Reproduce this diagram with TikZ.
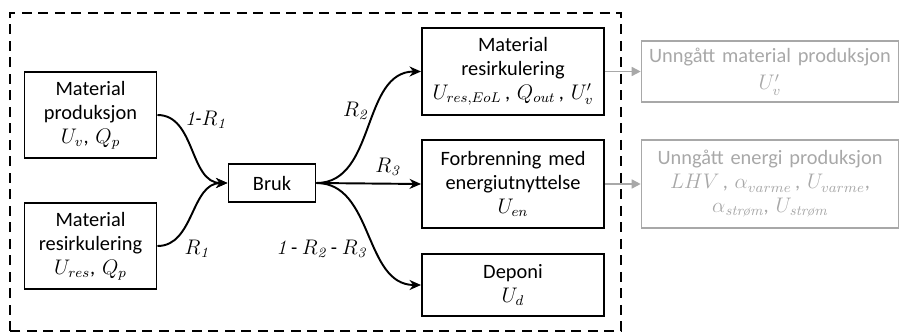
\documentclass[tikz,border=0pt]{standalone}
\usepackage{fontspec}
\usepackage{amsmath}
\setsansfont{Carlito}
\renewcommand{\familydefault}{\sfdefault}
\usetikzlibrary{positioning,arrows.meta}
\definecolor{ghost}{RGB}{168,168,168}
\newcommand{\ital}[1]{\text{\rmfamily\itshape #1}}

\begin{document}
\begin{tikzpicture}[
  font=\fontsize{11.6}{13.6}\selectfont,
  box/.style   = {rectangle, draw=black, line width=1.1pt, align=center,
                  text width=25mm, minimum height=17.2mm, inner sep=2pt},
  gbox/.style  = {rectangle, draw=ghost, text=ghost, line width=0.9pt, align=center,
                  text width=50mm, minimum height=12.2mm, inner sep=2pt},
  fl/.style    = {-{Stealth[length=2.3mm,width=2mm]}, line width=1.1pt},
  gfl/.style   = {-{Triangle[length=1.8mm,width=1.8mm]}, ghost, line width=0.9pt},
  lab/.style   = {inner sep=1pt},
  frame/.style = {draw=black, line width=1.1pt, dash pattern=on 2mm off 1.3mm}
]
\useasboundingbox (0,0) rectangle (17.98,6.66);

% --- Systemgrense ------------------------------------------------------------
\draw[frame] (0.2,0.04) rectangle (12.42,6.4);

% --- Inn i bruk --------------------------------------------------------------
\node[box] (prod)  at (1.81,4.36) {Material\\ produksjon\\ $U_v$, $Q_p$};
\node[box] (resir) at (1.81,1.74) {Material\\ resirkulering\\ $U_{res}$, $Q_p$};
\node[box, text width=16mm, minimum height=7.6mm] (bruk) at (5.44,3.0) {Bruk};

% --- Etter bruk --------------------------------------------------------------
\node[box, text width=35mm, minimum height=17.4mm] (matres) at (10.26,5.23)
     {Material\\ resirkulering\\ $U_{res,EoL}$\,, $Q_{out}$\,, $U'_v$};
\node[box, text width=35mm, minimum height=17.6mm] (forbr)  at (10.26,2.98)
     {Forbrenning med\\ energiutnyttelse\\ $U_{en}$};
\node[box, text width=35mm, minimum height=12.4mm] (deponi) at (10.26,0.96)
     {Deponi\\ $U_d$};

% --- Unngått produksjon ------------------------------------------------------
\node[gbox] (umat) at (15.4,5.23) {Unngått material produksjon\\[2pt] $U'_v$};
\node[gbox, minimum height=17.6mm] (uen) at (15.4,2.98)
     {Unngått energi produksjon\\ $LHV$\,, $\alpha_{varme}$\,, $U_{varme}$,\\
      $\alpha_{\ital{strøm}}$, $U_{\ital{strøm}}$};

% --- Flyter -------------------------------------------------------------------
\draw[fl] (prod.east)  to[out=0,in=180]
     node[lab, pos=0.22, anchor=west, xshift=3pt, yshift=2pt]{$\mathit{1}$\textit{-}$R_{\mathit{1}}$} (bruk.west);
\draw[fl] (resir.east) to[out=0,in=180]
     node[lab, pos=0.3, anchor=north west, yshift=-3pt]{$R_{\mathit{1}}$} (bruk.west);
\draw[fl] (bruk.east)  to[out=0,in=180]
     node[lab, pos=0.6, anchor=east, xshift=-3pt]{$R_{\mathit{2}}$} (matres.west);
\draw[fl] (bruk.east)  --
     node[lab, pos=0.68, above, yshift=3pt]{$R_{\mathit{3}}$} (forbr.west);
\draw[fl] (bruk.east)  to[out=0,in=180]
     node[lab, pos=0.6, anchor=east, xshift=-4pt]{$\mathit{1}$ - $R_{\mathit{2}}$ - $R_{\mathit{3}}$} (deponi.west);

\draw[gfl] (matres.east) -- (umat.west);
\draw[gfl] (forbr.east)  -- (uen.west);

\end{tikzpicture}
\end{document}
